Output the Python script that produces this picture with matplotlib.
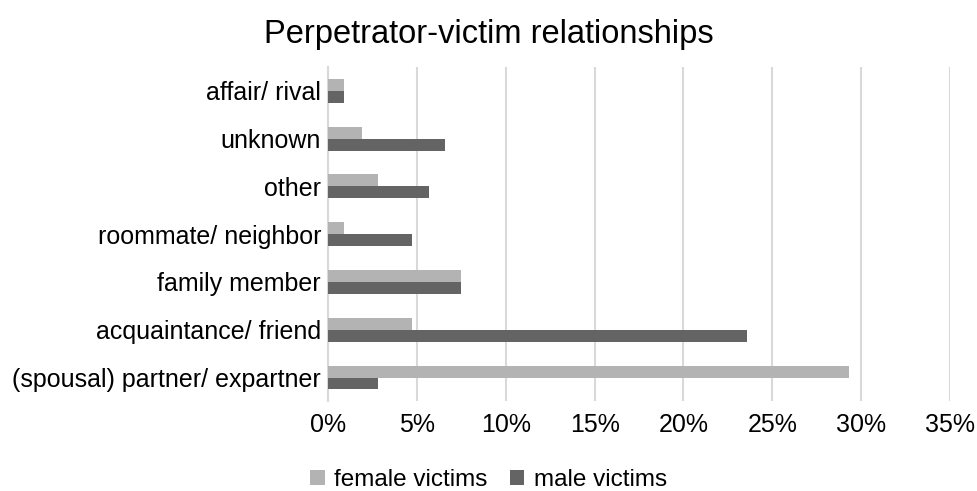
import numpy as np
import matplotlib
matplotlib.use('Agg')
import matplotlib.pyplot as plt

plt.rcParams['font.family'] = ['Liberation Sans', 'DejaVu Sans']

categories = ['affair/ rival', 'unknown', 'other', 'roommate/ neighbor',
              'family member', 'acquaintance/ friend',
              '(spousal) partner/ expartner']
female = [0.9, 1.9, 2.8, 0.9, 7.5, 4.7, 29.3]
male = [0.9, 6.6, 5.7, 4.7, 7.5, 23.6, 2.8]

FEMALE_COLOR = '#b3b3b3'
MALE_COLOR = '#646464'

fig = plt.figure(figsize=(9.77, 4.91), dpi=100)
ax = fig.add_axes([0.3357, 0.1825, 0.6367, 0.681])

y = np.arange(len(categories))
h = 0.25
ax.barh(y - h / 2, female, height=h, color=FEMALE_COLOR, label='female victims', zorder=3)
ax.barh(y + h / 2, male, height=h, color=MALE_COLOR, label='male victims', zorder=3)

ax.set_ylim(len(categories) - 0.5, -0.5)
ax.set_xlim(0, 35)
ax.set_xticks(np.arange(0, 36, 5))
ax.set_xticklabels([f'{t}%' for t in range(0, 36, 5)])
ax.set_yticks(y)
ax.set_yticklabels(categories)

ax.grid(axis='x', color='#d9d9d9', linewidth=1.5, zorder=0)
for s in ['top', 'right', 'bottom']:
    ax.spines[s].set_visible(False)
ax.spines['left'].set_color('#d9d9d9')
ax.spines['left'].set_linewidth(1.5)
ax.tick_params(axis='both', length=0, labelsize=18, colors='black')
ax.tick_params(axis='x', pad=8)
ax.tick_params(axis='y', pad=5)

fig.suptitle('Perpetrator-victim relationships', fontsize=23.5, y=0.962)
fig.legend(loc='lower center', bbox_to_anchor=(0.5, -0.045), ncol=2, frameon=False,
           fontsize=17.5, handlelength=0.6, handleheight=0.6, handletextpad=0.4,
           columnspacing=0.9)

fig.savefig('out.png', dpi=100)
